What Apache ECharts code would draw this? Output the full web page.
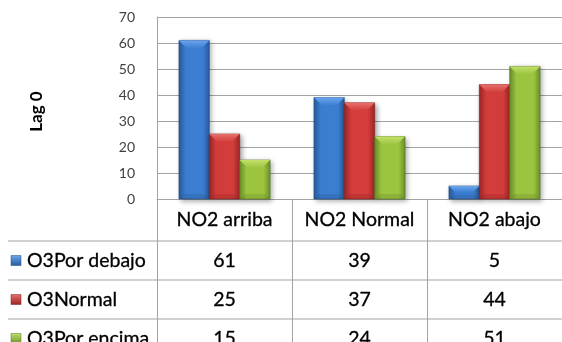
<!DOCTYPE html>
<html><head><meta charset="utf-8">
<script src="https://cdn.jsdelivr.net/npm/echarts@6/dist/echarts.min.js"></script>
<style>html,body{margin:0;padding:0;background:#fff}#c{width:562px;height:342px}</style>
</head><body><div id="c"></div>
<script>
// Categories and series values
const categories = ['NO2 arriba', 'NO2 Normal', 'NO2 abajo'];
const seriesNames = ['O3Por debajo', 'O3Normal', 'O3Por encima'];
const porDebajo = [61, 39, 5];
const o3Normal = [25, 37, 44];
const porEncima = [15, 24, 51];
const yMin = 0, yMax = 70, yStep = 10;
const yTitle = 'Lag 0';

const seriesValues = [porDebajo, o3Normal, porEncima];

// Shading per series: edge, body, bevel highlight
const palettes = [
  { edge: '#2a5a9c', body: '#3b7dd0', light: '#6aa6ee', dark: '#23497e' },
  { edge: '#9c2626', body: '#d23c3a', light: '#e8706c', dark: '#7e1e1e' },
  { edge: '#6a922a', body: '#9cc43f', light: '#c2e06a', dark: '#557522' }
];

const FONT = 'Lato, "Open Sans", sans-serif';
const GRID = { left: 157, top: 17, width: 422, height: 182 };
const HEADER_H = 42, ROW_H = 39;
const LINE = '#a3a3a3';
const TEXT_SIZE = 19.5;
const TEXT_FONT = TEXT_SIZE + 'px ' + FONT;

function hGrad(p) {
  return new echarts.graphic.LinearGradient(0, 0, 1, 0, [
    { offset: 0, color: p.edge },
    { offset: 0.22, color: p.body },
    { offset: 0.78, color: p.body },
    { offset: 1, color: p.edge }
  ]);
}

function barRender(s) {
  const p = palettes[s];
  return function (params, api) {
    const idx = api.value(0);
    const top = api.coord([idx, api.value(1)]);
    const base = api.coord([idx, 0]);
    const band = api.size([1, 0])[0];
    const bw = band * 0.225;
    const x = top[0] + (s - 1.5) * bw;
    const y = top[1];
    const h = base[1] - top[1];
    const d = Math.min(8, h / 2);
    const b = Math.min(5, h / 3);
    return {
      type: 'group',
      children: [
        { type: 'rect', shape: { x: x, y: y, width: bw, height: h },
          style: { fill: hGrad(p), stroke: p.dark, lineWidth: 0.6,
            shadowBlur: 5, shadowOffsetX: 2, shadowOffsetY: 2, shadowColor: 'rgba(0,0,0,0.35)' } },
        { type: 'polygon', shape: { points: [[x, y], [x + bw, y], [x + bw - d, y + d], [x + d, y + d]] },
          style: { fill: new echarts.graphic.LinearGradient(0, 0, 0, 1, [
            { offset: 0, color: p.light }, { offset: 1, color: p.body }]) } },
        { type: 'polygon', shape: { points: [[x, y + h], [x + bw, y + h], [x + bw - b, y + h - b], [x + b, y + h - b]] },
          style: { fill: p.dark, opacity: 0.2 } }
      ]
    };
  };
}

// Data table cells: one text per series under each category column
function tableRender(params, api) {
  const idx = api.value(0);
  const base = api.coord([idx, 0]);
  const children = [];
  for (let r = 0; r < 3; r++) {
    children.push({
      type: 'text',
      style: {
        x: base[0], y: base[1] + HEADER_H + ROW_H * r + ROW_H / 2,
        text: String(api.value(r + 1)), align: 'center', verticalAlign: 'middle',
        font: TEXT_FONT, fill: '#000', stroke: '#000', lineWidth: 0.3
      }
    });
  }
  return { type: 'group', children: children };
}

const tableTop = GRID.top + GRID.height;
const graphics = [];
for (let r = 0; r < 3; r++) {
  const yLine = tableTop + HEADER_H + ROW_H * r;
  const yMid = yLine + ROW_H / 2;
  graphics.push({ type: 'line', shape: { x1: 8, y1: yLine, x2: 562, y2: yLine },
    style: { stroke: LINE, lineWidth: 1 }, silent: true });
  const p = palettes[r];
  graphics.push({ type: 'rect', shape: { x: 11, y: yMid - 5, width: 10, height: 10 },
    style: { fill: new echarts.graphic.LinearGradient(0, 0, 0, 1, [
      { offset: 0, color: p.light }, { offset: 1, color: p.edge }]), stroke: p.dark, lineWidth: 0.5 } });
  graphics.push({ type: 'text', style: { x: 27, y: yMid, text: seriesNames[r],
    verticalAlign: 'middle', font: TEXT_FONT, fill: '#000', stroke: '#000', lineWidth: 0.3 } });
}
// Vertical axis title
graphics.push({ type: 'text', x: 37, y: 111.5, rotation: Math.PI / 2,
  style: { x: 0, y: 0, text: yTitle, align: 'center', verticalAlign: 'middle',
    font: 'bold 17px ' + FONT, fill: '#000' } });

const chart = echarts.init(document.getElementById('c'), null, { renderer: 'canvas' });
chart.setOption({
  animation: false,
  backgroundColor: '#fff',
  grid: GRID,
  xAxis: {
    type: 'category', data: categories,
    axisLine: { show: true, lineStyle: { color: LINE } },
    axisTick: { show: true, interval: 0, length: HEADER_H + ROW_H * 4, lineStyle: { color: LINE } },
    axisLabel: { interval: 0, hideOverlap: false, margin: 11, fontFamily: FONT, fontSize: TEXT_SIZE,
      color: '#000', textBorderColor: '#000', textBorderWidth: 0.3 }
  },
  yAxis: {
    type: 'value', min: yMin, max: yMax, interval: yStep,
    axisLine: { show: true, lineStyle: { color: LINE } },
    axisTick: { show: false },
    axisLabel: { margin: 22, fontFamily: FONT, fontSize: 14, color: '#404040' },
    splitLine: { lineStyle: { color: LINE } }
  },
  graphic: graphics,
  series: seriesValues.map((vals, s) => ({
    type: 'custom', name: seriesNames[s], clip: false,
    renderItem: barRender(s),
    data: vals.map((v, i) => [i, v]),
    z: 3
  })).concat([{
    type: 'custom', name: 'tabla', clip: false,
    renderItem: tableRender,
    data: categories.map((c, i) => [i, porDebajo[i], o3Normal[i], porEncima[i]]),
    z: 4
  }])
});
</script></body></html>
